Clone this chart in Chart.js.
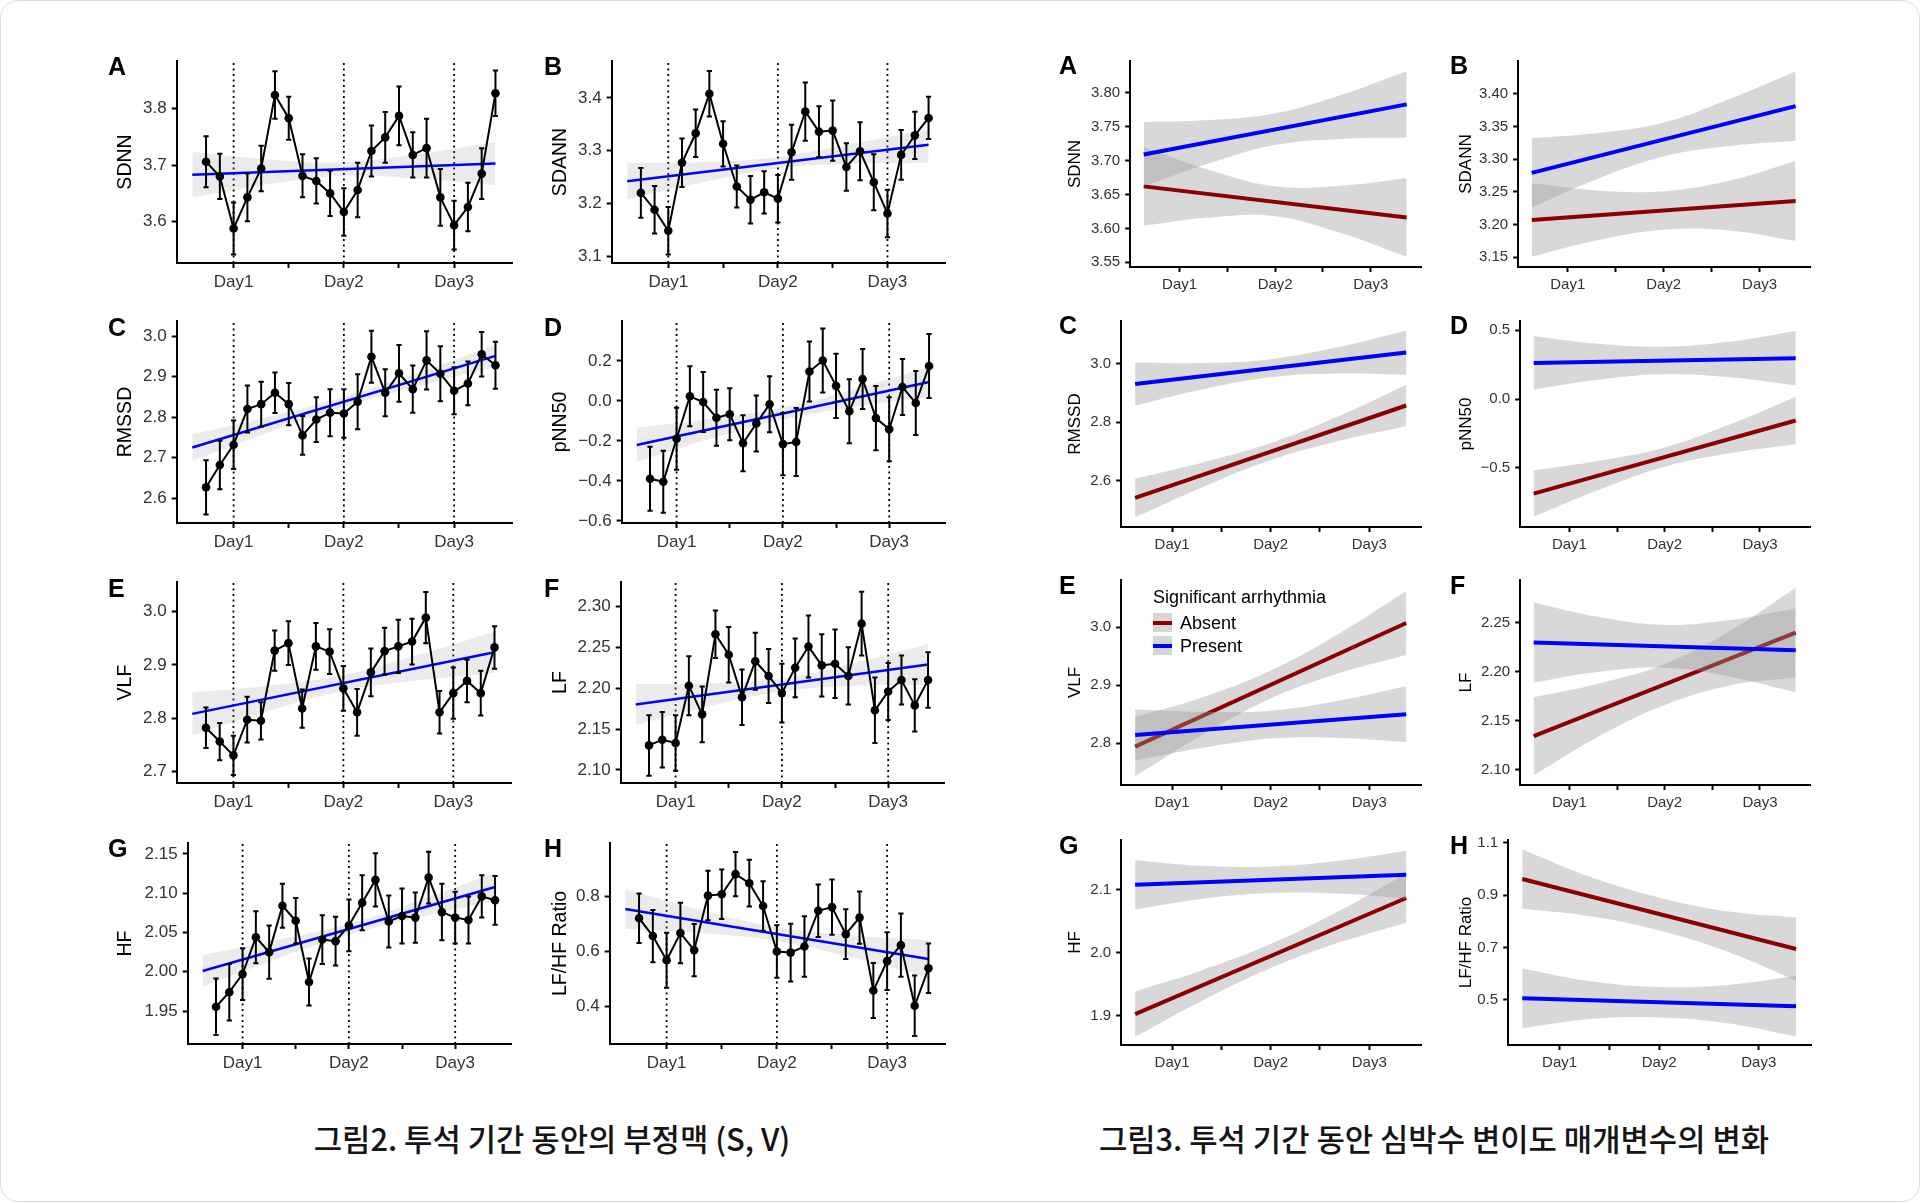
<!DOCTYPE html>
<html>
<head>
<meta charset="utf-8">
<script src="https://cdn.jsdelivr.net/npm/chart.js@4.4.1/dist/chart.umd.min.js"></script>
<style>
html,body{margin:0;padding:0;background:#fff;}
#page{position:relative;width:1920px;height:1203px;overflow:hidden;background:#fff;}
.card{position:absolute;left:0;top:0;width:1920px;height:1202px;box-sizing:border-box;border:1px solid #dcdcdc;border-radius:18px;}
canvas{position:absolute;}
.letter{position:absolute;font-family:"Liberation Sans",Arial,sans-serif;font-weight:bold;font-size:25px;line-height:25px;color:#000;transform:translateY(-50%);}
.cap{position:absolute;font-family:"Noto Sans CJK KR","Noto Sans CJK SC",sans-serif;font-size:30.8px;font-weight:500;color:#151515;white-space:nowrap;transform:translate(-50%,-50%);}
.lg{position:absolute;font-family:"Liberation Sans",Arial,sans-serif;font-size:18px;line-height:22px;color:#000;white-space:nowrap;}
.key{position:absolute;width:19px;height:19px;background:#d6d6d6;}
.key i{position:absolute;left:0;right:0;top:7.5px;height:4px;}
</style>
</head>
<body>
<div id="page"><div class="card"></div></div>
<script>
// ---------- shared x axis ----------
const timePoints = [0,1,2,3,4,5,6,7,8,9,10,11,12,13,14,15,16,17,18,19,20,21];
const dayTickValues = [2,6,10,14,18];
const dayTickLabels = ['Day1','','Day2','','Day3'];
const dayLines = [2,10,18];
const fitX = [-1,21];
const bandX = [-1,4.5,10,15.5,21];

// ---------- Figure 2 (left) : means, error half-widths, fit, band ----------
const sdnnMean  = [3.706,3.680,3.588,3.643,3.694,3.824,3.783,3.681,3.672,3.650,3.617,3.656,3.725,3.749,3.787,3.718,3.730,3.643,3.594,3.626,3.685,3.827];
const sdnnErr   = [0.045,0.040,0.046,0.042,0.040,0.042,0.038,0.038,0.040,0.040,0.042,0.048,0.045,0.045,0.052,0.040,0.052,0.050,0.043,0.043,0.045,0.040];
const sdnnFit   = [3.683,3.703];
const sdnnLo    = [3.643,3.666,3.681,3.676,3.665];
const sdnnHi    = [3.723,3.710,3.705,3.720,3.741];

const sdannMean = [3.220,3.188,3.148,3.277,3.333,3.408,3.313,3.232,3.207,3.221,3.209,3.297,3.374,3.336,3.338,3.269,3.299,3.240,3.181,3.292,3.329,3.362];
const sdannErr  = [0.047,0.045,0.045,0.046,0.045,0.043,0.043,0.040,0.045,0.040,0.045,0.052,0.055,0.048,0.057,0.045,0.055,0.053,0.045,0.047,0.045,0.040];
const sdannFit  = [3.242,3.311];
const sdannLo   = [3.207,3.240,3.266,3.275,3.277];
const sdannHi   = [3.277,3.278,3.288,3.313,3.341];

const rmssdMean = [2.627,2.682,2.732,2.820,2.832,2.860,2.832,2.755,2.794,2.811,2.809,2.838,2.949,2.860,2.908,2.869,2.940,2.907,2.865,2.883,2.955,2.928];
const rmssdErr  = [0.067,0.060,0.060,0.058,0.055,0.050,0.052,0.048,0.055,0.058,0.060,0.068,0.064,0.058,0.070,0.058,0.072,0.068,0.058,0.054,0.055,0.058];
const rmssdFit  = [2.725,2.951];
const rmssdLo   = [2.692,2.762,2.826,2.877,2.924];
const rmssdHi   = [2.758,2.800,2.850,2.911,2.978];

const pnn50Mean = [-0.389,-0.404,-0.189,0.023,-0.006,-0.084,-0.067,-0.212,-0.113,-0.017,-0.216,-0.205,0.147,0.202,0.075,-0.052,0.109,-0.086,-0.142,0.069,-0.011,0.174];
const pnn50Err  = [0.160,0.155,0.155,0.150,0.150,0.140,0.130,0.140,0.140,0.140,0.155,0.170,0.150,0.160,0.160,0.160,0.150,0.160,0.160,0.140,0.160,0.160];
const pnn50Fit  = [-0.220,0.094];
const pnn50Lo   = [-0.305,-0.191,-0.093,-0.029,0.019];
const pnn50Hi   = [-0.135,-0.091,-0.033,0.061,0.169];

const vlfMean   = [2.782,2.756,2.730,2.797,2.795,2.927,2.941,2.818,2.935,2.925,2.856,2.811,2.886,2.926,2.935,2.944,2.989,2.811,2.847,2.870,2.847,2.933];
const vlfErr    = [0.038,0.035,0.037,0.043,0.035,0.038,0.041,0.036,0.044,0.042,0.042,0.044,0.045,0.044,0.050,0.043,0.048,0.040,0.048,0.040,0.042,0.040];
const vlfFit    = [2.808,2.924];
const vlfLo     = [2.768,2.813,2.851,2.871,2.885];
const vlfHi     = [2.848,2.861,2.881,2.919,2.963];

const lfMean    = [2.130,2.137,2.133,2.203,2.168,2.266,2.241,2.189,2.233,2.215,2.194,2.225,2.251,2.228,2.230,2.215,2.279,2.173,2.196,2.210,2.179,2.210];
const lfErr     = [0.037,0.034,0.034,0.036,0.034,0.029,0.034,0.034,0.035,0.033,0.036,0.036,0.038,0.038,0.042,0.035,0.039,0.040,0.035,0.030,0.032,0.034];
const lfFit     = [2.180,2.229];
const lfLo      = [2.155,2.178,2.196,2.203,2.204];
const lfHi      = [2.205,2.206,2.212,2.231,2.254];

const hfMean    = [1.9555,1.974,1.997,2.044,2.025,2.084,2.065,1.987,2.041,2.039,2.059,2.088,2.117,2.064,2.071,2.069,2.120,2.076,2.069,2.066,2.096,2.091];
const hfErr     = [0.036,0.036,0.033,0.033,0.034,0.028,0.029,0.030,0.031,0.031,0.033,0.035,0.034,0.033,0.035,0.032,0.033,0.036,0.033,0.030,0.027,0.031];
const hfFit     = [2.001,2.108];
const hfLo      = [1.981,2.016,2.047,2.070,2.090];
const hfHi      = [2.021,2.040,2.061,2.092,2.126];

const lfhfMean  = [0.720,0.655,0.567,0.666,0.604,0.802,0.807,0.880,0.847,0.764,0.599,0.595,0.617,0.747,0.760,0.662,0.722,0.457,0.564,0.622,0.402,0.538];
const lfhfErr   = [0.090,0.095,0.100,0.110,0.095,0.090,0.090,0.080,0.085,0.090,0.095,0.105,0.110,0.095,0.100,0.090,0.095,0.100,0.105,0.115,0.110,0.090];
const lfhfFit   = [0.753,0.572];
const lfhfLo    = [0.682,0.666,0.637,0.577,0.504];
const lfhfHi    = [0.824,0.750,0.687,0.657,0.640];

// ---------- Figure 3 (right) : fits and bands by group ----------
const sdnnAbsFit  = [3.662,3.616]; const sdnnAbsLo  = [3.604,3.616,3.618,3.593,3.558]; const sdnnAbsHi  = [3.720,3.686,3.662,3.663,3.674];
const sdnnPreFit  = [3.709,3.783]; const sdnnPreLo  = [3.662,3.696,3.723,3.732,3.734]; const sdnnPreHi  = [3.757,3.760,3.770,3.797,3.832];
const sdannAbsFit = [3.207,3.236]; const sdannAbsLo = [3.151,3.176,3.192,3.191,3.175]; const sdannAbsHi = [3.263,3.252,3.251,3.267,3.297];
const sdannPreFit = [3.279,3.381]; const sdannPreLo = [3.226,3.270,3.304,3.320,3.328]; const sdannPreHi = [3.332,3.340,3.356,3.392,3.434];
const rmssdAbsFit = [2.542,2.857]; const rmssdAbsLo = [2.476,2.579,2.671,2.736,2.786]; const rmssdAbsHi = [2.608,2.663,2.729,2.820,2.928];
const rmssdPreFit = [2.930,3.038]; const rmssdPreLo = [2.856,2.912,2.953,2.966,2.962]; const rmssdPreHi = [3.004,3.002,3.015,3.056,3.113];
const pnn50AbsFit = [-0.686,-0.155]; const pnn50AbsLo = [-0.854,-0.658,-0.491,-0.393,-0.328]; const pnn50AbsHi = [-0.518,-0.448,-0.351,-0.183,0.018];
const pnn50PreFit = [0.263,0.298]; const pnn50PreLo = [0.069,0.142,0.181,0.159,0.100]; const pnn50PreHi = [0.457,0.402,0.381,0.419,0.496];
const vlfAbsFit   = [2.794,3.007]; const vlfAbsLo   = [2.743,2.815,2.877,2.920,2.952]; const vlfAbsHi   = [2.845,2.879,2.925,2.988,3.062];
const vlfPreFit   = [2.814,2.850]; const vlfPreLo   = [2.770,2.792,2.808,2.809,2.802]; const vlfPreHi   = [2.858,2.854,2.856,2.873,2.898];
const lfAbsFit    = [2.134,2.240]; const lfAbsLo    = [2.094,2.134,2.166,2.186,2.194]; const lfAbsHi    = [2.174,2.188,2.208,2.242,2.286];
const lfPreFit    = [2.230,2.222]; const lfPreLo    = [2.189,2.200,2.204,2.195,2.179]; const lfPreHi    = [2.271,2.256,2.248,2.253,2.265];
const hfAbsFit    = [1.903,2.087]; const hfAbsLo    = [1.867,1.925,1.976,2.016,2.048]; const hfAbsHi    = [1.939,1.973,2.014,2.066,2.126];
const hfPreFit    = [2.108,2.124]; const hfPreLo    = [2.069,2.086,2.095,2.094,2.086]; const hfPreHi    = [2.147,2.138,2.137,2.146,2.162];
const lfhfAbsFit  = [0.961,0.694]; const lfhfAbsLo  = [0.848,0.819,0.765,0.684,0.574]; const lfhfAbsHi  = [1.074,0.969,0.891,0.838,0.814];
const lfhfPreFit  = [0.506,0.476]; const lfhfPreLo  = [0.392,0.427,0.433,0.411,0.361]; const lfhfPreHi  = [0.620,0.571,0.549,0.557,0.591];

// ---------- tick labels ----------
const f2TicksA = ['3.6','3.7','3.8'];
const f2TicksB = ['3.1','3.2','3.3','3.4'];
const f2TicksC = ['2.6','2.7','2.8','2.9','3.0'];
const f2TicksD = ['−0.6','−0.4','−0.2','0.0','0.2'];
const f2TicksE = ['2.7','2.8','2.9','3.0'];
const f2TicksF = ['2.10','2.15','2.20','2.25','2.30'];
const f2TicksG = ['1.95','2.00','2.05','2.10','2.15'];
const f2TicksH = ['0.4','0.6','0.8'];
const f3TicksA = ['3.55','3.60','3.65','3.70','3.75','3.80'];
const f3TicksB = ['3.15','3.20','3.25','3.30','3.35','3.40'];
const f3TicksC = ['2.6','2.8','3.0'];
const f3TicksD = ['−0.5','0.0','0.5'];
const f3TicksE = ['2.8','2.9','3.0'];
const f3TicksF = ['2.10','2.15','2.20','2.25'];
const f3TicksG = ['1.9','2.0','2.1'];
const f3TicksH = ['0.5','0.7','0.9','1.1'];

// ---------- texts ----------
const caption2 = '그림2. 투석 기간 동안의 부정맥 (S, V)';
const caption3 = '그림3. 투석 기간 동안 심박수 변이도 매개변수의 변화';
const legendTitle = 'Significant arrhythmia';
const groupNames = ['Absent','Present'];

// ---------- layout (positions / styles) ----------
const XMIN = -2.13, XMAX = 22.2;
const FONT = '"Liberation Sans", Arial, Helvetica, sans-serif';
const leftStyle  = {tick:17, title:19.5};
const rightStyle = {tick:15, title:17};

const leftPanels = [
  {letter:'A', title:'SDNN',        mean:sdnnMean,  err:sdnnErr,  fit:sdnnFit,  lo:sdnnLo,  hi:sdnnHi,  ticks:f2TicksA, y:[3.527,3.884], box:[177,61,512,263],   tx:126, lp:[108,66]},
  {letter:'B', title:'SDANN',       mean:sdannMean, err:sdannErr, fit:sdannFit, lo:sdannLo, hi:sdannHi, ticks:f2TicksB, y:[3.087,3.470], box:[612,61,945,263],   tx:561, lp:[544,66]},
  {letter:'C', title:'RMSSD',       mean:rmssdMean, err:rmssdErr, fit:rmssdFit, lo:rmssdLo, hi:rmssdHi, ticks:f2TicksC, y:[2.539,3.037], box:[177,321,512,523],  tx:126, lp:[108,327]},
  {letter:'D', title:'pNN50',       mean:pnn50Mean, err:pnn50Err, fit:pnn50Fit, lo:pnn50Lo, hi:pnn50Hi, ticks:f2TicksD, y:[-0.610,0.399], box:[622,321,945,523], tx:561, lp:[544,327]},
  {letter:'E', title:'VLF',         mean:vlfMean,   err:vlfErr,   fit:vlfFit,   lo:vlfLo,   hi:vlfHi,   ticks:f2TicksE, y:[2.678,3.056], box:[177,582,511,783],  tx:126, lp:[108,588]},
  {letter:'F', title:'LF',          mean:lfMean,    err:lfErr,    fit:lfFit,    lo:lfLo,    hi:lfHi,    ticks:f2TicksF, y:[2.084,2.330], box:[621,582,944,783],  tx:561, lp:[544,588]},
  {letter:'G', title:'HF',          mean:hfMean,    err:hfErr,    fit:hfFit,    lo:hfLo,    hi:hfHi,    ticks:f2TicksG, y:[1.908,2.164], box:[188,843,511,1044], tx:126, lp:[108,848]},
  {letter:'H', title:'LF/HF Ratio', mean:lfhfMean,  err:lfhfErr,  fit:lfhfFit,  lo:lfhfLo,  hi:lfhfHi,  ticks:f2TicksH, y:[0.263,0.993], box:[610,843,945,1044], tx:561, lp:[544,848]}
];

const rightPanels = [
  {letter:'A', title:'SDNN',  a:[sdnnAbsFit,sdnnAbsLo,sdnnAbsHi],   p:[sdnnPreFit,sdnnPreLo,sdnnPreHi],   ticks:f3TicksA, y:[3.543,3.847], box:[1130,61,1421,267],  tx:1075, lp:[1059,65]},
  {letter:'B', title:'SDANN', a:[sdannAbsFit,sdannAbsLo,sdannAbsHi], p:[sdannPreFit,sdannPreLo,sdannPreHi], ticks:f3TicksB, y:[3.135,3.450], box:[1518,61,1810,267],  tx:1466, lp:[1450,65]},
  {letter:'C', title:'RMSSD', a:[rmssdAbsFit,rmssdAbsLo,rmssdAbsHi], p:[rmssdPreFit,rmssdPreLo,rmssdPreHi], ticks:f3TicksC, y:[2.443,3.145], box:[1121,321,1421,527], tx:1075, lp:[1059,325]},
  {letter:'D', title:'pNN50', a:[pnn50AbsFit,pnn50AbsLo,pnn50AbsHi], p:[pnn50PreFit,pnn50PreLo,pnn50PreHi], ticks:f3TicksD, y:[-0.929,0.568], box:[1520,321,1810,527], tx:1466, lp:[1450,325]},
  {letter:'E', title:'VLF',   a:[vlfAbsFit,vlfAbsLo,vlfAbsHi],       p:[vlfPreFit,vlfPreLo,vlfPreHi],       ticks:f3TicksE, y:[2.728,3.081], box:[1121,580,1421,785], tx:1075, lp:[1059,585]},
  {letter:'F', title:'LF',    a:[lfAbsFit,lfAbsLo,lfAbsHi],          p:[lfPreFit,lfPreLo,lfPreHi],          ticks:f3TicksF, y:[2.084,2.294], box:[1520,580,1810,785], tx:1466, lp:[1450,585]},
  {letter:'G', title:'HF',    a:[hfAbsFit,hfAbsLo,hfAbsHi],          p:[hfPreFit,hfPreLo,hfPreHi],          ticks:f3TicksG, y:[1.854,2.179], box:[1121,840,1421,1045], tx:1075, lp:[1059,845]},
  {letter:'H', title:'LF/HF Ratio', a:[lfhfAbsFit,lfhfAbsLo,lfhfAbsHi], p:[lfhfPreFit,lfhfPreLo,lfhfPreHi], ticks:f3TicksH, y:[0.328,1.110], box:[1508,840,1811,1045], tx:1466, lp:[1450,845]}
];

const page = document.getElementById('page');
const tickNum = s => parseFloat(s.replace('−','-'));
const pts = (xs, ys) => xs.map((x,i) => ({x, y:ys[i]}));

function addText(cls, txt, x, y){
  const d = document.createElement('div');
  d.className = cls; d.textContent = txt;
  d.style.left = x+'px'; d.style.top = y+'px';
  page.appendChild(d); return d;
}

function makePanel(p, st, datasets){
  const [L,T,R,B] = p.box;
  const lh = st.title*1.2;
  const cl = p.tx - lh/2;
  const padT = 18, padR = 12, xH = 40;
  const W = Math.round(R + padR - cl), H = Math.round(B + xH - (T - padT));
  const cv = document.createElement('canvas');
  cv.width = W; cv.height = H;
  cv.style.left = cl+'px'; cv.style.top = (T-padT)+'px';
  page.appendChild(cv);
  const yW = L - cl;
  const grid = {display:true, drawOnChartArea:false, drawTicks:true, tickLength:5, tickWidth:2, tickColor:'#000'};
  const border = {display:true, color:'#000', width:2};
  new Chart(cv, {
    type:'line',
    data:{datasets},
    options:{
      responsive:false, animation:false, events:[],
      layout:{padding:{top:padT, right:padR, left:0, bottom:0}},
      plugins:{legend:{display:false}, tooltip:{enabled:false}},
      scales:{
        x:{type:'linear', min:XMIN, max:XMAX,
           afterBuildTicks:s => { s.ticks = dayTickValues.map(v => ({value:v})); },
           afterFit:s => { s.height = xH; },
           ticks:{autoSkip:false, maxRotation:0, minRotation:0, padding:4, color:'#333',
                  font:{family:FONT, size:st.tick}, callback:(v,i) => dayTickLabels[i]},
           grid, border},
        y:{type:'linear', min:p.y[0], max:p.y[1],
           afterBuildTicks:s => { s.ticks = p.ticks.map(t => ({value:tickNum(t)})); },
           afterFit:s => { s.width = yW; },
           ticks:{padding:5, color:'#333', font:{family:FONT, size:st.tick}, callback:(v,i) => p.ticks[i]},
           title:{display:true, text:p.title, color:'#000', padding:0, font:{family:FONT, size:st.title, lineHeight:1.2}},
           grid, border}
      }
    }
  });
  addText('letter', p.letter, p.lp[0], p.lp[1]);
}

// Figure 2 panels
leftPanels.forEach(p => {
  const errData = [];
  timePoints.forEach((x,i) => {
    errData.push({x, y:p.mean[i]-p.err[i]}, {x, y:p.mean[i]+p.err[i]}, {x, y:null});
  });
  const ds = [
    {data:pts(timePoints, p.mean), borderColor:'#000', borderWidth:2, tension:0,
     pointRadius:4.3, pointBackgroundColor:'#000', pointBorderWidth:0, order:0},
    {data:errData, borderColor:'#000', borderWidth:2, spanGaps:false,
     pointStyle:'line', pointRadius:2.6, pointBorderColor:'#000', pointBorderWidth:2, order:1},
    {data:pts(fitX, p.fit), borderColor:'#0000ff', borderWidth:2.5, pointRadius:0, order:2},
    {data:pts(bandX, p.lo), borderColor:'rgba(0,0,0,0)', pointRadius:0, tension:0.4, fill:false, order:3},
    {data:pts(bandX, p.hi), borderColor:'rgba(0,0,0,0)', pointRadius:0, tension:0.4, fill:'-1',
     backgroundColor:'rgba(153,153,153,0.2)', order:3}
  ];
  dayLines.forEach(d => ds.push({data:[{x:d,y:p.y[0]},{x:d,y:p.y[1]}], borderColor:'#000', borderWidth:1.8,
    borderDash:[2,3.5], pointRadius:0, order:5}));
  makePanel(p, leftStyle, ds);
});

// Figure 3 panels
rightPanels.forEach(p => {
  const band = 'rgba(153,153,153,0.38)';
  const ds = [
    {data:pts(fitX, p.p[0]), borderColor:'#0000ff', borderWidth:4, pointRadius:0, order:0},
    {data:pts(bandX, p.p[1]), borderColor:'rgba(0,0,0,0)', pointRadius:0, tension:0.4, fill:false, order:1},
    {data:pts(bandX, p.p[2]), borderColor:'rgba(0,0,0,0)', pointRadius:0, tension:0.4, fill:'-1', backgroundColor:band, order:1},
    {data:pts(fitX, p.a[0]), borderColor:'#8b0000', borderWidth:4, pointRadius:0, order:2},
    {data:pts(bandX, p.a[1]), borderColor:'rgba(0,0,0,0)', pointRadius:0, tension:0.4, fill:false, order:3},
    {data:pts(bandX, p.a[2]), borderColor:'rgba(0,0,0,0)', pointRadius:0, tension:0.4, fill:'-1', backgroundColor:band, order:3}
  ];
  makePanel(p, rightStyle, ds);
});

// legend (Figure 3 E)
addText('lg', legendTitle, 1153, 586);
[['#8b0000',613],['#0000ff',636]].forEach((k,i) => {
  const b = document.createElement('div');
  b.className = 'key'; b.style.left = '1153px'; b.style.top = k[1]+'px';
  const ln = document.createElement('i'); ln.style.background = k[0]; b.appendChild(ln);
  page.appendChild(b);
  addText('lg', groupNames[i], 1180, k[1]-1.5);
});

// captions
addText('cap', caption2, 552, 1137);
addText('cap', caption3, 1434, 1137);
</script>
</body>
</html>
